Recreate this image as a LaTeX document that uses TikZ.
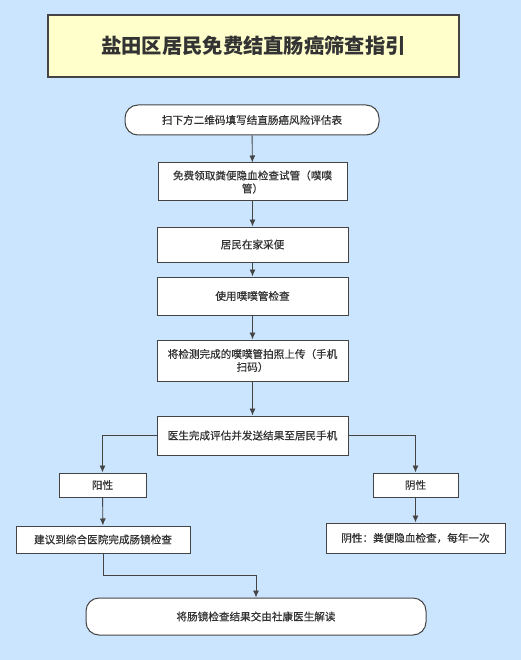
\documentclass[tikz,border=0pt]{standalone}
\usepackage{fontspec}
\setmainfont{Noto Sans CJK SC}
\newfontfamily\boxfont{Noto Sans CJK SC}[FakeBold=0.5]
\usetikzlibrary{arrows.meta}
\definecolor{bgblue}{HTML}{CCE5FF}
\definecolor{titleyellow}{HTML}{FFFFCC}
\definecolor{linegray}{HTML}{444444}
\definecolor{textgray}{HTML}{333333}

\tikzset{
  stepbox/.style={draw=linegray, line width=1pt, fill=white, text=textgray,
    font=\boxfont\fontsize{10.6}{13}\selectfont, align=center, inner sep=0pt},
  pillbox/.style={stepbox, rounded corners=13pt},
  flow/.style={draw=linegray, line width=0.9pt, -{Latex[length=7pt,width=6pt]}}
}

\begin{document}
\begin{tikzpicture}[x=1pt,y=-1pt,>=latex]
            % background and page size
            \fill[bgblue] (0,0) rectangle (521,660);
            \useasboundingbox (0,0) rectangle (521,660);

            % title
            \node[draw=linegray, line width=1.6pt, fill=titleyellow, text=textgray,
              minimum width=411pt, minimum height=62pt, inner sep=0pt,
              font=\fontsize{20.3}{23}\selectfont\bfseries] (title) at (253.5,46) {盐田区居民免费结直肠癌筛查指引};

            % main column
            \node[pillbox, minimum width=254pt, minimum height=30pt] (scan) at (252,120) {扫下方二维码填写结直肠癌风险评估表};
            \node[stepbox, minimum width=189pt, minimum height=38pt] (tube) at (252.5,182) {免费领取粪便隐血检查试管（噗噗\\管）};
            \node[stepbox, minimum width=191pt, minimum height=35pt] (home) at (252.5,244.5) {居民在家采便};
            \node[stepbox, minimum width=191pt, minimum height=38pt] (check) at (252.5,296) {使用噗噗管检查};
            \node[stepbox, minimum width=191pt, minimum height=41pt] (upload) at (252.5,360.5) {将检测完成的噗噗管拍照上传（手机\\扫码）};
            \node[stepbox, minimum width=191pt, minimum height=39pt] (doctor) at (252.5,435.5) {医生完成评估并发送结果至居民手机};

            % two branches
            \node[stepbox, minimum width=87pt, minimum height=24pt] (pos) at (102.5,485) {阳性};
            \node[stepbox, minimum width=85pt, minimum height=24pt] (neg) at (415.5,485) {阴性};
            \node[stepbox, minimum width=174pt, minimum height=27pt] (advise) at (103,539.5) {建议到综合医院完成肠镜检查};
            \node[stepbox, minimum width=179pt, minimum height=30pt] (yearly) at (415.5,538) {阴性：粪便隐血检查，每年一次};

            % final step
            \node[pillbox, minimum width=340pt, minimum height=37pt] (interp) at (256,616.5) {将肠镜检查结果交由社康医生解读};
            \coordinate (bend) at (103,575);

            % connectors
            \draw[flow] (scan) -- (tube);
            \draw[flow] (tube) -- (home);
            \draw[flow] (home) -- (check);
            \draw[flow] (check) -- (upload);
            \draw[flow] (upload) -- (doctor);
            \draw[flow] (doctor.west) -| (pos.north);
            \draw[flow] (doctor.east) -| (neg.north);
            \draw[flow] (pos) -- (advise);
            \draw[flow] (neg) -- (yearly);
            \draw[flow] (advise.south) -- (bend) -| (interp.north);
        \end{tikzpicture}
\end{document}
